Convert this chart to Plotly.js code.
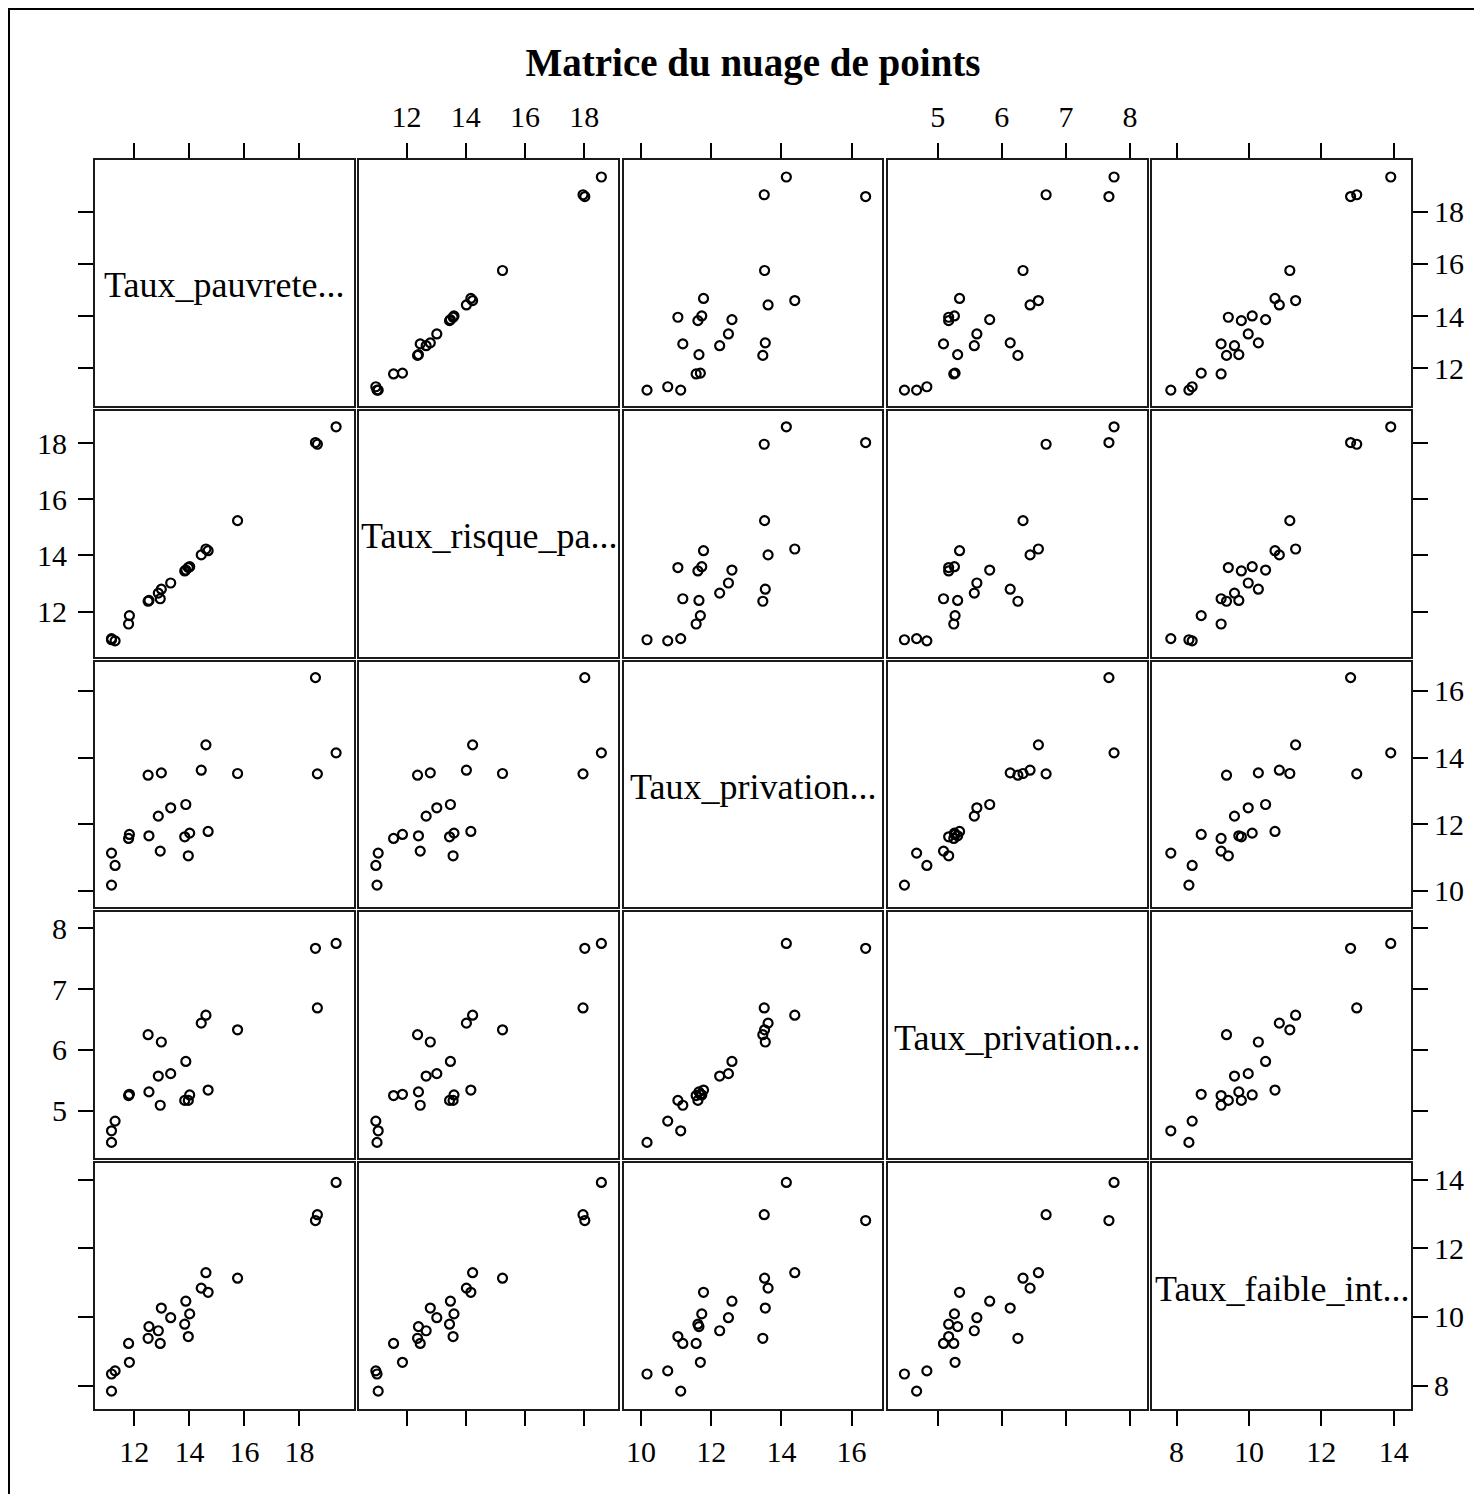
<!DOCTYPE html>
<html>
<head>
<meta charset="utf-8">
<script src="https://cdn.plot.ly/plotly-3.0.1.min.js"></script>
<style>html,body{margin:0;padding:0;background:#fff;}#chart{width:1474px;height:1494px;}</style>
</head>
<body>
<div id="chart"></div>
<script>
// Variables (one value per observation, 22 observations)
const tauxPauvrete   = [19.33, 18.58, 18.65, 15.75, 14.60, 14.68, 14.43, 13.87, 13.83, 13.96, 14.01, 13.32, 12.98, 12.87, 12.94, 12.50, 12.53, 11.79, 11.82, 11.17, 11.17, 11.30];
const tauxRisque     = [18.58, 18.02, 17.96, 15.24, 14.23, 14.17, 14.02, 13.48, 13.45, 13.57, 13.60, 13.02, 12.80, 12.66, 12.46, 12.37, 12.40, 11.56, 11.86, 11.04, 11.00, 10.96];
const tauxPrivationA = [14.14, 16.40, 13.51, 13.52, 14.38, 11.78, 13.62, 12.59, 11.62, 11.05, 11.73, 12.49, 13.54, 12.24, 11.19, 13.47, 11.65, 11.57, 11.69, 11.13, 10.17, 10.76];
const tauxPrivationB = [7.75, 7.67, 6.69, 6.33, 6.57, 5.34, 6.44, 5.81, 5.17, 5.17, 5.26, 5.61, 6.13, 5.57, 5.09, 6.25, 5.31, 5.25, 5.27, 4.67, 4.48, 4.83];
const tauxFaibleInt  = [13.92, 12.81, 12.98, 11.13, 11.29, 10.72, 10.84, 10.46, 9.79, 9.43, 10.09, 9.98, 10.26, 9.60, 9.23, 9.38, 9.72, 9.23, 8.68, 7.84, 8.34, 8.43];

const varLabels = ["Taux_pauvrete...", "Taux_risque_pa...", "Taux_privation...", "Taux_privation...", "Taux_faible_int..."];
const tickValues = [[12, 14, 16, 18], [12, 14, 16, 18], [10, 12, 14, 16], [5, 6, 7, 8], [8, 10, 12, 14]];
const chartTitle = "Matrice du nuage de points";

const vars = [tauxPauvrete, tauxRisque, tauxPrivationA, tauxPrivationB, tauxFaibleInt];
const ranges = [[10.57, 19.98], [10.40, 19.15], [9.50, 16.88], [4.22, 8.26], [7.32, 14.48]];
const N = 5;
const step = 0.2008, size = 0.1968;
const serif = "Liberation Serif, Times New Roman, serif";

const data = [];
const layout = {
  width: 1474, height: 1494,
  margin: {l: 95, r: 63, t: 160, b: 85},
  paper_bgcolor: "#fff", plot_bgcolor: "#fff",
  showlegend: false,
  font: {family: serif, size: 30, color: "#000"},
  title: {text: "<b>" + chartTitle + "</b>", font: {family: serif, size: 39, color: "#000"},
          x: 0.5, xref: "paper", xanchor: "center", y: 1 - 62 / 1494, yanchor: "middle", yref: "container"},
  annotations: [],
  shapes: [{type: "rect", xref: "paper", yref: "paper",
            x0: (9 - 95) / 1316, x1: 1.2, y0: -0.2, y1: (1409 - 9) / 1249,
            line: {color: "#000", width: 2}, fillcolor: "rgba(0,0,0,0)", layer: "below"}]
};

for (let i = 0; i < N; i++) {
  for (let j = 0; j < N; j++) {
    const k = i * N + j + 1;
    const xn = k === 1 ? "xaxis" : "xaxis" + k;
    const yn = k === 1 ? "yaxis" : "yaxis" + k;
    const xr = "x" + (k === 1 ? "" : k), yr = "y" + (k === 1 ? "" : k);
    const x0 = j * step, y1 = 1 - i * step;
    const xa = {
      domain: [x0, x0 + size], anchor: yr, range: ranges[j], fixedrange: true,
      showgrid: false, zeroline: false, showline: true, mirror: true,
      linecolor: "#1a1a1a", linewidth: 2, ticks: "", showticklabels: false,
      tickvals: tickValues[j], tickfont: {family: serif, size: 30, color: "#000"},
      tickcolor: "#000", tickwidth: 2, ticklen: 15
    };
    const ya = {
      domain: [y1 - size, y1], anchor: xr, range: ranges[i], fixedrange: true,
      showgrid: false, zeroline: false, showline: true, mirror: true,
      linecolor: "#1a1a1a", linewidth: 2, ticks: "", showticklabels: false,
      tickvals: tickValues[i], tickfont: {family: serif, size: 30, color: "#000"},
      tickcolor: "#000", tickwidth: 2, ticklen: 15
    };
    if (i === 0) { xa.side = "top"; xa.ticks = "outside"; xa.showticklabels = (j % 2 === 1); xa.ticklabelstandoff = 4; }
    if (i === N - 1) { xa.side = "bottom"; xa.ticks = "outside"; xa.showticklabels = (j % 2 === 0); }
    if (j === 0) { ya.side = "left"; ya.ticks = "outside"; ya.showticklabels = (i % 2 === 1); ya.ticklabelstandoff = 5; }
    if (j === N - 1) { ya.side = "right"; ya.ticks = "outside"; ya.showticklabels = (i % 2 === 0); }
    layout[xn] = xa;
    layout[yn] = ya;

    if (i === j) {
      data.push({type: "scatter", mode: "markers", x: [], y: [], xaxis: xr, yaxis: yr, hoverinfo: "skip"});
      layout.annotations.push({
        text: varLabels[i], xref: xr + " domain", yref: yr + " domain",
        x: 0.5, y: 0.49, xanchor: "center", yanchor: "middle", showarrow: false,
        font: {family: serif, size: 36, color: "#000"}
      });
    } else {
      data.push({
        type: "scatter", mode: "markers", x: vars[j], y: vars[i], xaxis: xr, yaxis: yr,
        marker: {symbol: "circle-open", size: 9, color: "#000", line: {width: 2.2, color: "#000"}},
        hoverinfo: "x+y"
      });
    }
  }
}

Plotly.newPlot("chart", data, layout, {displayModeBar: false, staticPlot: true});
</script>
</body>
</html>
